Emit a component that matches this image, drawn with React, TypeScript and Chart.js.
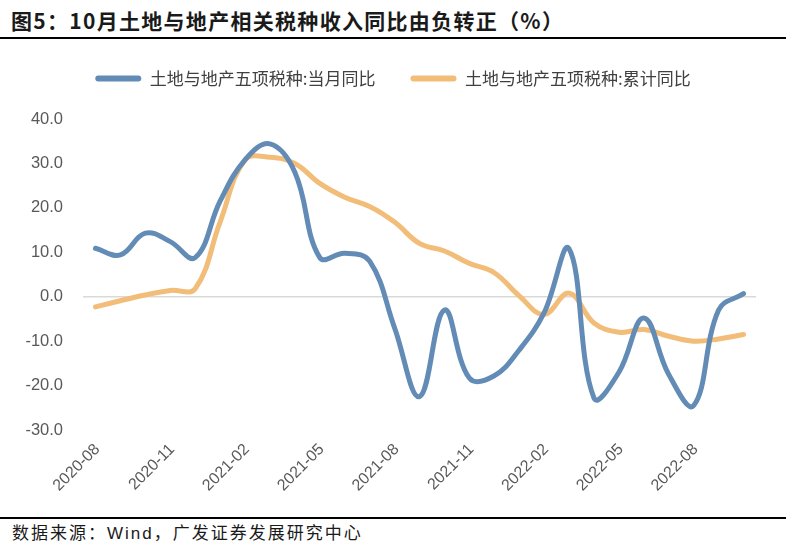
import { useEffect, useRef } from 'react';
import { Chart, registerables } from 'chart.js';

Chart.register(...registerables);

const months = [
  '2020-08', '2020-09', '2020-10', '2020-11', '2020-12',
  '2021-01', '2021-02', '2021-03', '2021-04', '2021-05', '2021-06', '2021-07', '2021-08', '2021-09', '2021-10', '2021-11', '2021-12',
  '2022-01', '2022-02', '2022-03', '2022-04', '2022-05', '2022-06', '2022-07', '2022-08', '2022-09', '2022-10',
];

const monthlyYoY = [
  10.9, 9.4, 14.3, 12.4, 8.8,
  21.5, 30.8, 34.4, 28.0, 8.8, 9.8, 8.0, -7.0, -22.5, -3.0, -18.3, -17.8,
  -12.0, -3.6, 10.8, -22.8, -17.0, -4.8, -17.5, -24.5, -3.0, 0.7,
];

const cumulativeYoY = [
  -2.3, -0.9, 0.4, 1.4, 1.8,
  16.8, 30.8, 31.4, 30.0, 25.5, 22.4, 20.3, 16.8, 12.0, 10.3, 7.5, 5.4,
  0.2, -4.0, 0.8, -5.9, -8.0, -7.4, -8.9, -10.0, -9.5, -8.5,
];

const xTickLabels = ['2020-08', '2020-11', '2021-02', '2021-05', '2021-08', '2021-11', '2022-02', '2022-05', '2022-08'];
const yTickValues = [-30, -20, -10, 0, 10, 20, 30, 40];
const seriesNames = ['土地与地产五项税种:当月同比', '土地与地产五项税种:累计同比'];
const seriesColors = ['#628CB6', '#F2BD78'];

const titleText = '图5：10月土地与地产相关税种收入同比由负转正（%）';
const sourceText = '数据来源：Wind，广发证券发展研究中心';

const xTickFont = { family: '"Liberation Sans", Arial, sans-serif', size: 16 };
const yTickFont = { family: '"Liberation Sans", Arial, sans-serif', size: 16.5 };

export default function App() {
  const canvasRef = useRef<HTMLCanvasElement | null>(null);

  useEffect(() => {
    const canvas = canvasRef.current;
    if (!canvas) return;
    const legendSpacer = {
      id: 'legendSpacer',
      beforeInit(chart: any) {
        const legend = chart.legend;
        if (!legend) return;
        const origFit = legend.fit;
        legend.fit = function () {
          origFit.bind(this)();
          this.height = 84;
        };
      },
    };
    const chart = new Chart(canvas, {
      type: 'line',
      data: {
        labels: months,
        datasets: [
          {
            label: seriesNames[0],
            data: monthlyYoY,
            borderColor: seriesColors[0],
            backgroundColor: seriesColors[0],
            borderWidth: 5,
            pointRadius: 0,
            tension: 0.4,
            borderCapStyle: 'round',
            borderJoinStyle: 'round',
          },
          {
            label: seriesNames[1],
            data: cumulativeYoY,
            borderColor: seriesColors[1],
            backgroundColor: seriesColors[1],
            borderWidth: 5,
            pointRadius: 0,
            tension: 0.4,
            borderCapStyle: 'round',
            borderJoinStyle: 'round',
          },
        ],
      },
      options: {
        responsive: false,
        animation: false,
        layout: { padding: { left: 0, right: 0, top: -10, bottom: 0 } },
        plugins: {
          tooltip: { enabled: false },
          legend: {
            position: 'top',
            labels: {
              boxWidth: 46,
              boxHeight: 6,
              padding: 35,
              color: '#404040',
              font: { family: '"Noto Sans CJK SC", sans-serif', size: 17 },
              useBorderRadius: true,
              borderRadius: 3,
              generateLabels: (ch: any) =>
                ch.data.datasets.map((ds: any, i: number) => ({
                  text: ds.label,
                  fillStyle: seriesColors[i],
                  strokeStyle: seriesColors[i],
                  lineWidth: 0,
                  hidden: false,
                  datasetIndex: i,
                  borderRadius: 3,
                  fontColor: '#404040',
                })),
            },
          },
        },
        scales: {
          x: {
            type: 'category',
            offset: true,
            grid: { display: false },
            border: { display: false },
            afterFit: (s: any) => {
              s.height = 80;
            },
            ticks: {
              autoSkip: false,
              maxRotation: 45,
              minRotation: 45,
              padding: 2,
              labelOffset: 2,
              color: '#595959',
              font: xTickFont,
              callback: (_v: any, i: number) => (xTickLabels.includes(months[i]) ? months[i] : ''),
            },
          },
          y: {
            min: -30,
            max: 40,
            afterBuildTicks: (s: any) => {
              s.ticks = yTickValues.map((v) => ({ value: v }));
            },
            afterFit: (s: any) => {
              s.width = 83;
            },
            border: { display: false },
            grid: {
              drawTicks: false,
              lineWidth: 1.5,
              color: (c: any) => (c.tick && c.tick.value === 0 ? '#D9D9D9' : 'rgba(0,0,0,0)'),
            },
            ticks: {
              padding: 20,
              color: '#595959',
              font: yTickFont,
              callback: (v: any) => Number(v).toFixed(1),
            },
          },
          yRightSpace: {
            type: 'linear',
            position: 'right',
            display: true,
            grid: { display: false },
            border: { display: false },
            ticks: { display: false },
            afterFit: (s: any) => {
              s.width = 30;
            },
          },
        },
      },
      plugins: [legendSpacer],
    } as any);
    return () => chart.destroy();
  }, []);

  return (
    <div
      style={{
        position: 'absolute',
        left: 0,
        top: 0,
        width: 786,
        height: 551,
        background: '#ffffff',
        overflow: 'hidden',
      }}
    >
      <div
        style={{
          position: 'absolute',
          left: 11,
          top: 5,
          font: 'bold 21px "Noto Sans CJK SC", sans-serif',
          letterSpacing: '1.3px',
          lineHeight: '30px',
          color: '#1a1a1a',
          whiteSpace: 'nowrap',
        }}
      >
        {titleText}
      </div>
      <div style={{ position: 'absolute', left: 0, top: 37, width: 786, height: 2, background: '#000' }} />
      <canvas ref={canvasRef} width={786} height={465} style={{ position: 'absolute', left: 0, top: 45 }} />
      <div style={{ position: 'absolute', left: 0, top: 517, width: 786, height: 1.5, background: '#000' }} />
      <div
        style={{
          position: 'absolute',
          left: 12,
          top: 522,
          font: '17px "Liberation Sans", "Noto Sans CJK SC", sans-serif',
          letterSpacing: '2px',
          lineHeight: '24px',
          color: '#1a1a1a',
          whiteSpace: 'nowrap',
        }}
      >
        {sourceText}
      </div>
    </div>
  );
}
